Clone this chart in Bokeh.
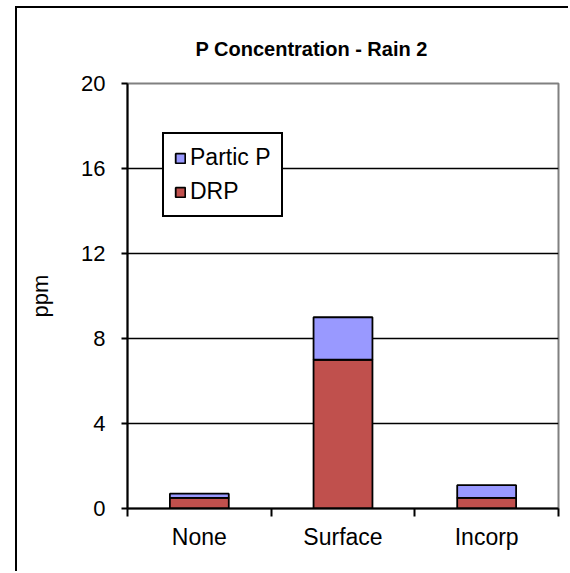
from bokeh.plotting import figure
from bokeh.models import (Range1d, FixedTicker, Legend, LegendItem, ColumnDataSource)
from bokeh.embed import file_html
from bokeh.resources import INLINE

# ---- data ----
categories = ["None", "Surface", "Incorp"]
drp = [0.5, 7.0, 0.5]
partic_p = [0.2, 2.0, 0.6]
y_ticks = [0, 4, 8, 12, 16, 20]
title_text = "P Concentration - Rain 2"
y_label = "ppm"

FONT = "Liberation Sans"
x_pos = [i + 0.5 for i in range(len(categories))]
base2 = drp
top2 = [a + b for a, b in zip(drp, partic_p)]

src = ColumnDataSource(dict(x=x_pos, drp=drp, base2=base2, top2=top2))

p = figure(width=553, height=565, output_backend="svg", toolbar_location=None,
           x_range=Range1d(0, len(categories)), y_range=Range1d(0, 20),
           min_border_left=110, min_border_right=12, min_border_top=75,
           min_border_bottom=65, background_fill_color="white",
           border_fill_color="white", title=title_text)
p.styles = {"border-left": "2px solid black", "border-top": "2px solid black",
            "margin-left": "15px", "margin-top": "6px"}
p.outline_line_color = "#808080"
p.outline_line_width = 2

p.title.align = "left"
p.title.offset = 68
p.title.standoff = 48
p.title.text_font = FONT
p.title.text_font_size = "20px"
p.title.text_font_style = "bold"
p.title.text_color = "black"

r_drp = p.vbar(x="x", top="drp", bottom=0, width=0.41, source=src,
               fill_color="#C0504D", line_color="black", line_width=1.8)
r_pp = p.vbar(x="x", top="top2", bottom="base2", width=0.41, source=src,
              fill_color="#9999FF", line_color="black", line_width=1.8)

# x axis
xa = p.xaxis[0]
xa.ticker = FixedTicker(ticks=x_pos, minor_ticks=list(range(len(categories) + 1)))
xa.major_label_overrides = {x: c for x, c in zip(x_pos, categories)}
xa.major_tick_out = 0
xa.major_tick_in = 0
xa.minor_tick_out = 8
xa.minor_tick_in = 0
xa.minor_tick_line_color = "black"
xa.minor_tick_line_width = 2
xa.axis_line_color = "black"
xa.axis_line_width = 2
xa.major_label_text_font = FONT
xa.major_label_text_font_size = "23px"
xa.major_label_text_color = "black"
xa.major_label_standoff = 7

# y axis
ya = p.yaxis[0]
ya.ticker = FixedTicker(ticks=y_ticks)
ya.major_tick_out = 6
ya.major_tick_in = 0
ya.minor_tick_out = 0
ya.minor_tick_in = 0
ya.major_tick_line_color = "black"
ya.major_tick_line_width = 2
ya.axis_line_color = "black"
ya.axis_line_width = 2
ya.major_label_text_font = FONT
ya.major_label_text_font_size = "22px"
ya.major_label_text_color = "black"
ya.major_label_standoff = 16
ya.axis_label = y_label
ya.axis_label_text_font = FONT
ya.axis_label_text_font_size = "22px"
ya.axis_label_text_font_style = "normal"
ya.axis_label_text_color = "black"
ya.axis_label_standoff = 25

p.xgrid.visible = False
p.ygrid.ticker = FixedTicker(ticks=y_ticks[1:-1])
p.ygrid.grid_line_color = "black"
p.ygrid.grid_line_width = 1.5

# legend
legend = Legend(items=[LegendItem(label="Partic P", renderers=[r_pp]),
                       LegendItem(label="DRP", renderers=[r_drp])],
                location=(35, 291), border_line_color="black", border_line_width=2,
                border_line_alpha=1.0,
                background_fill_color="white", background_fill_alpha=1,
                label_text_font=FONT, label_text_font_size="23px",
                label_text_color="black",
                glyph_width=12, glyph_height=12, spacing=7, padding=10,
                margin=0, label_standoff=4)
p.add_layout(legend)

open("out.html", "w").write(file_html(p, INLINE))
